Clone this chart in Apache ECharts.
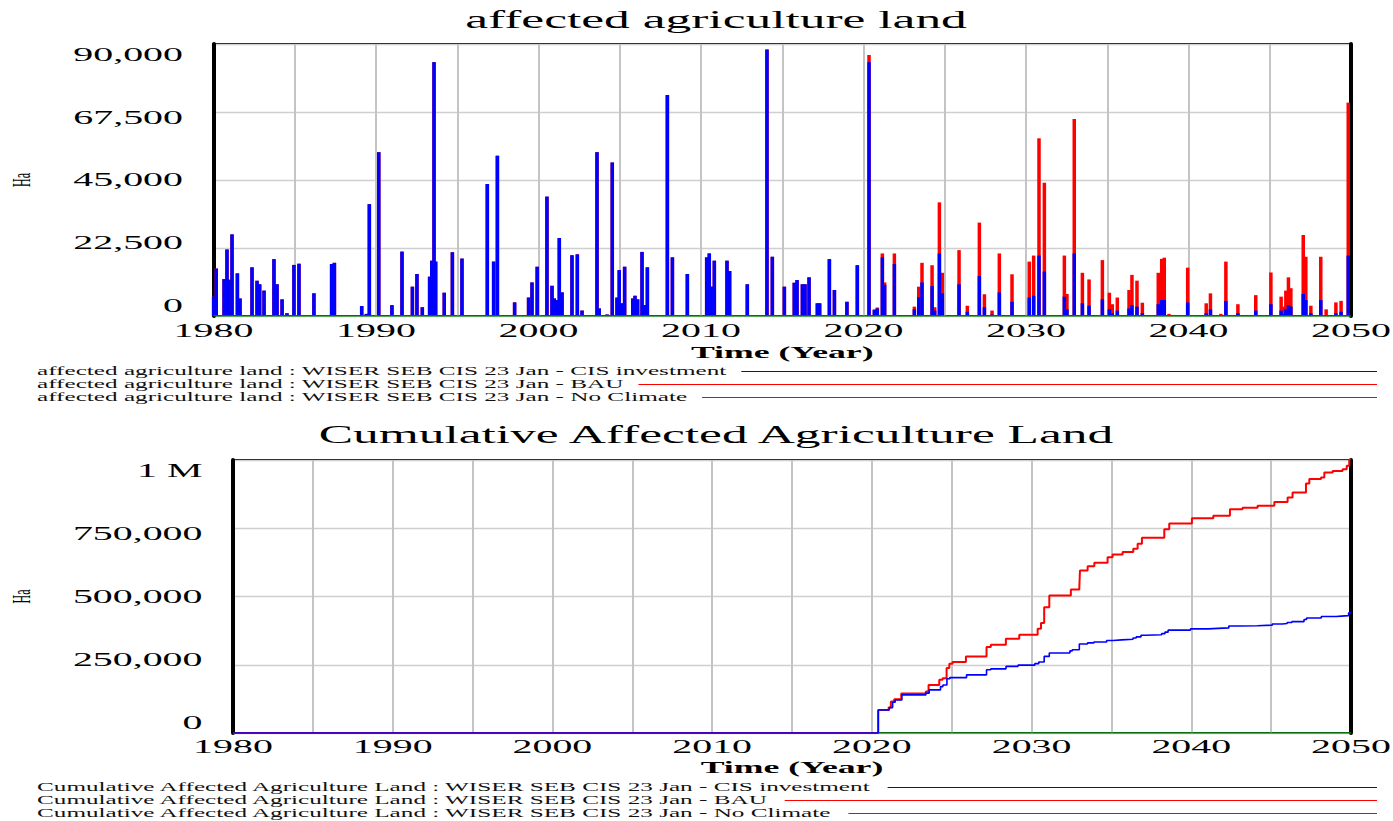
<!DOCTYPE html>
<html>
<head>
<meta charset="utf-8">
<title>affected agriculture land</title>
<script src="https://cdn.jsdelivr.net/npm/echarts@6/dist/echarts.min.js"></script>
<style>
  html, body { margin: 0; padding: 0; background: #fff; }
  #chart { width: 1393px; height: 821px; }
</style>
</head>
<body>
<div id="chart"></div>
<script>
// values (Ha)
// spikes before 2020 are the same in every run
const historyPeaks = [
  [1980.01, 6400], [1980.17, 15700], [1980.65, 12200], [1980.83, 22000], [1980.95, 12000],
  [1981.14, 27000], [1981.47, 14100], [1981.63, 5800], [1982.37, 16100], [1982.68, 11700],
  [1982.84, 10500], [1983.11, 8400], [1983.72, 18800], [1983.91, 10500], [1984.22, 5500],
  [1984.52, 900], [1984.95, 16900], [1985.26, 17300], [1986.18, 7500], [1987.27, 17200],
  [1987.44, 17600], [1989.12, 3300], [1989.41, 700], [1989.59, 37000], [1990.17, 54200],
  [1990.53, 300], [1990.98, 3600], [1991.60, 21300], [1992.24, 9700], [1992.52, 13900],
  [1992.85, 2900], [1993.30, 13000], [1993.43, 18300], [1993.57, 84000], [1993.67, 18000],
  [1994.20, 7700], [1994.70, 21100], [1995.29, 19000], [1996.17, 300], [1996.85, 43700],
  [1997.24, 18000], [1997.47, 53000], [1998.53, 4500], [1999.39, 6100], [1999.60, 11100],
  [1999.92, 16300], [2000.52, 39500], [2000.83, 10000], [2000.97, 5800], [2001.12, 5300],
  [2001.28, 25800], [2001.45, 7800], [2002.06, 20100], [2002.39, 20400], [2002.68, 1800],
  [2003.60, 54200], [2003.74, 2500], [2004.22, 500], [2004.54, 50800], [2004.83, 6100],
  [2004.97, 15200], [2005.14, 4200], [2005.30, 16300], [2005.80, 5800], [2005.94, 6700],
  [2006.10, 5500], [2006.37, 21200], [2006.53, 3600], [2006.70, 16100], [2007.93, 73100],
  [2008.24, 19400], [2009.16, 13900], [2010.35, 19400], [2010.51, 20700], [2010.64, 9700],
  [2010.82, 18300], [2011.60, 18300], [2011.76, 14900], [2012.85, 10500], [2014.06, 88200],
  [2014.39, 19600], [2015.13, 9700], [2015.74, 11000], [2015.91, 11900], [2016.24, 10500],
  [2016.40, 10500], [2016.65, 12800], [2017.16, 4200], [2017.30, 4200], [2017.90, 18800],
  [2018.21, 8600], [2018.37, 300], [2018.98, 4700], [2019.62, 16800]
];

// from 2020 on the runs split
const futureYears = [
  2020.34, 2020.67, 2020.85, 2021.16, 2021.30, 2021.90, 2022.23, 2023.13, 2023.40, 2023.60,
  2024.22, 2024.38, 2024.67, 2024.85, 2025.88, 2026.39, 2027.13, 2027.44, 2027.91, 2028.36,
  2029.14, 2029.75, 2030.20, 2030.47, 2030.80, 2031.13, 2032.36, 2032.52, 2032.97, 2033.47,
  2033.88, 2034.70, 2035.13, 2035.31, 2035.62, 2036.34, 2036.52, 2036.83, 2037.16, 2038.14,
  2038.35, 2038.51, 2038.80, 2039.95, 2040.31, 2041.09, 2041.35, 2041.99, 2042.30, 2043.04,
  2044.14, 2045.07, 2045.70, 2045.85, 2045.99, 2046.15, 2046.30, 2047.06, 2047.22, 2047.53,
  2048.14, 2048.47, 2049.07, 2049.39, 2049.83
];
const bauFuture = [
  86400, 2200, 2800, 20700, 11100, 20700, 300, 3100, 9700, 17600,
  16800, 2900, 37600, 14300, 21800, 3400, 30900, 7200, 1800, 20700,
  13800, 200, 18000, 20000, 58800, 44100, 20000, 7300, 65200, 14300,
  12100, 18500, 7700, 3900, 6100, 8600, 13600, 11700, 4400, 14300,
  18900, 19300, 700, 16000, 300, 4200, 7500, 700, 18000, 3900,
  6900, 14400, 6400, 3100, 8400, 12800, 9200, 26800, 19600, 3400,
  19600, 2200, 4500, 5000, 70600
];
const cisFuture = [
  84000, 2000, 2500, 19400, 10300, 17200, 300, 2200, 6200, 11100,
  9900, 1800, 20700, 7500, 10500, 1400, 13200, 2900, 500, 7800,
  4700, 0, 6100, 6700, 20000, 14700, 6400, 2200, 20700, 4200,
  3400, 5500, 2200, 900, 1800, 2500, 3600, 3100, 900, 3900,
  5300, 5300, 0, 4500, 0, 900, 2200, 0, 5000, 900,
  1800, 3900, 1800, 600, 2200, 3600, 3100, 7300, 5300, 900,
  5300, 300, 900, 1400, 20000
];

// cumulative totals, [year, level reached]
const cumBau = [
  [1980, 0], [2020.40, 84500], [2021.05, 93000], [2021.19, 115000], [2021.40, 124000],
  [2021.84, 144500], [2023.38, 152000], [2023.55, 176000], [2024.22, 195000], [2024.43, 201000],
  [2024.68, 238000], [2024.85, 253500], [2025.05, 260000], [2025.89, 280500], [2027.18, 315000],
  [2027.45, 323000], [2028.39, 345500], [2029.23, 360000], [2030.38, 382000], [2030.59, 403000],
  [2030.79, 460600], [2031.11, 503500], [2032.46, 525500], [2032.99, 534000], [2033.03, 595000],
  [2033.51, 611000], [2033.93, 623500], [2034.76, 644000], [2035.07, 654000], [2035.70, 663000],
  [2036.37, 675000], [2036.64, 693000], [2036.91, 715500], [2038.31, 746000], [2038.62, 767000],
  [2040.04, 786500], [2041.38, 796000], [2042.42, 819500], [2043.21, 825500], [2044.15, 832000],
  [2045.20, 846500], [2046.03, 862500], [2046.34, 881000], [2047.18, 914000], [2047.39, 930000],
  [2048.12, 936000], [2048.33, 954000], [2048.85, 960000], [2049.47, 966500], [2049.73, 979000],
  [2049.89, 1003000], [2050, 1003000]
];
const cumCis = [
  [1980, 0], [2020.40, 84500], [2021.09, 93000], [2021.30, 112700], [2021.46, 121000],
  [2021.88, 139500], [2023.38, 146000], [2023.59, 158000], [2024.30, 170000], [2024.45, 176000],
  [2024.70, 198500], [2024.88, 203000], [2025.93, 213000], [2027.18, 231500], [2027.45, 235000],
  [2028.40, 244000], [2029.15, 248500], [2030.20, 254000], [2030.45, 260000], [2030.79, 280500],
  [2031.11, 293000], [2032.40, 301000], [2032.55, 305000], [2032.99, 326000], [2033.50, 330000],
  [2033.90, 333500], [2034.70, 339000], [2035.10, 341000], [2035.65, 343500], [2036.35, 348000],
  [2036.55, 352000], [2036.85, 358000], [2037.15, 360000], [2038.14, 364000], [2038.35, 369500],
  [2038.55, 377000], [2039.95, 381500], [2041.09, 382500], [2041.35, 385000], [2042.35, 392000],
  [2043.04, 393000], [2044.14, 395000], [2045.07, 399000], [2045.70, 401000], [2046.00, 404500],
  [2046.30, 408000], [2047.06, 415500], [2047.22, 421000], [2048.14, 426500], [2049.07, 428000],
  [2049.39, 430000], [2049.85, 440000], [2050, 440000]
];

// the No Climate run stays at zero
const noClimate = [[1980, 0], [2050, 0]];

const topNames = [
  'affected agriculture land : WISER SEB CIS 23 Jan - CIS investment',
  'affected agriculture land : WISER SEB CIS 23 Jan - BAU',
  'affected agriculture land : WISER SEB CIS 23 Jan - No Climate'
];
const bottomNames = [
  'Cumulative Affected Agriculture Land : WISER SEB CIS 23 Jan - CIS investment',
  'Cumulative Affected Agriculture Land : WISER SEB CIS 23 Jan - BAU',
  'Cumulative Affected Agriculture Land : WISER SEB CIS 23 Jan - No Climate'
];
const runColors = ['#0000ff', '#ff0000', '#008000'];

const FONT = '"Liberation Serif", "Times New Roman", serif';
const SX = 2.1; // the picture is stretched sideways, text too

const bauPeaks = historyPeaks.concat(futureYears.map((y, i) => [y, bauFuture[i]]));
const cisPeaks = historyPeaks.concat(futureYears.map((y, i) => [y, cisFuture[i]]));

const chartDom = document.getElementById('chart');
const chart = echarts.init(chartDom, null, { renderer: 'svg' });

// labels of the y axes sit a bit inward of their grid lines
function yRich(size) {
  const pads = [[0, 0, 21, 0], [0, 0, 10.6, 0], [0, 0, 0, 0], [10.6, 0, 0, 0], [21, 0, 0, 0]];
  const r = {};
  pads.forEach((p, i) => {
    r['p' + i] = { fontFamily: FONT, fontSize: size, color: '#000', padding: p };
  });
  return r;
}

function xAxisFor(gridIndex, margin, nameGap) {
  return {
    gridIndex: gridIndex, type: 'value', min: 1980, max: 2050, interval: 5,
    axisLine: { show: false }, axisTick: { show: false },
    splitLine: { show: true, lineStyle: { color: '#c4c4c4', width: 2 } },
    axisLabel: {
      margin: margin, fontFamily: FONT, fontSize: 19, color: '#000',
      formatter: v => (v % 10 === 0 ? String(v) : '')
    },
    name: 'Time (Year)', nameLocation: 'middle', nameGap: nameGap,
    nameTextStyle: { fontFamily: FONT, fontSize: 17, fontWeight: 'bold', color: '#000' }
  };
}

function yAxisFor(gridIndex, max, interval, fmt, nameGap) {
  return {
    gridIndex: gridIndex, type: 'value', min: 0, max: max, interval: interval,
    axisLine: { show: true, lineStyle: { color: '#000', width: 4 } },
    axisTick: { show: false },
    splitLine: { show: true, lineStyle: { color: '#cfcfcf', width: 1.3 } },
    axisLabel: {
      margin: 30.5, fontFamily: FONT, fontSize: 19, color: '#000',
      formatter: (v, i) => '{p' + i + '|' + fmt(v) + '}',
      rich: yRich(19)
    },
    name: 'Ha', nameLocation: 'middle', nameRotate: 90, nameGap: nameGap,
    nameTextStyle: { fontFamily: FONT, fontSize: 12, color: '#000' }
  };
}

function rightEdge(gridIndex, max) {
  return {
    gridIndex: gridIndex, type: 'value', position: 'right', min: 0, max: max,
    axisLine: { show: true, lineStyle: { color: '#000', width: 4 } },
    axisTick: { show: false }, axisLabel: { show: false }, splitLine: { show: false }
  };
}

const measure = document.createElement('canvas').getContext('2d');
measure.font = '12px "Liberation Serif"';

function legendRows(names, ys) {
  const out = [];
  names.forEach((n, i) => {
    const w = measure.measureText(n).width * SX;
    out.push({
      type: 'text', x: 37, y: ys[i], silent: true,
      style: { text: n, fontFamily: FONT, fontSize: 12, fill: '#111', align: 'left', verticalAlign: 'middle' }
    });
    out.push({
      type: 'line', silent: true,
      shape: { x1: 37 + w + 14, y1: ys[i] + 0.5, x2: 1377, y2: ys[i] + 0.5 },
      style: { stroke: runColors[i], lineWidth: 1 }
    });
  });
  return out;
}

const titleStyle = { fontFamily: FONT, fontSize: 24.5, fontWeight: 'normal', color: '#000' };

const option = {
  animation: false,
  backgroundColor: '#fff',
  title: [
    { text: 'affected agriculture land', left: 716, top: 20, padding: 0,
      textAlign: 'center', textVerticalAlign: 'middle', textStyle: titleStyle },
    { text: 'Cumulative Affected Agriculture Land', left: 716, top: 435, padding: 0,
      textAlign: 'center', textVerticalAlign: 'middle', textStyle: titleStyle }
  ],
  grid: [
    { left: 213.5, top: 44, width: 1137.5, height: 272, show: true,
      borderColor: '#000', borderWidth: 2, outerBoundsMode: 'none' },
    { left: 233, top: 460, width: 1118, height: 273, show: true,
      borderColor: '#000', borderWidth: 2, outerBoundsMode: 'none' }
  ],
  xAxis: [xAxisFor(0, 5.5, 28), xAxisFor(1, 4.5, 26)],
  yAxis: [
    yAxisFor(0, 90000, 22500, v => echarts.format.addCommas(v), 186),
    rightEdge(0, 90000),
    yAxisFor(1, 1000000, 250000, v => (v === 1000000 ? '1 M' : echarts.format.addCommas(v)), 206),
    rightEdge(1, 1000000)
  ],
  series: [
    { name: topNames[2], type: 'line', xAxisIndex: 0, yAxisIndex: 0, data: noClimate,
      showSymbol: false, lineStyle: { color: runColors[2], width: 1.5 } },
    { name: topNames[1], type: 'bar', xAxisIndex: 0, yAxisIndex: 0, data: bauPeaks,
      barWidth: 3.5, barGap: '-100%', itemStyle: { color: runColors[1] } },
    { name: topNames[0], type: 'bar', xAxisIndex: 0, yAxisIndex: 0, data: cisPeaks,
      barWidth: 3.5, barGap: '-100%', itemStyle: { color: runColors[0] } },
    { name: bottomNames[2], type: 'line', xAxisIndex: 1, yAxisIndex: 2, data: noClimate,
      showSymbol: false, lineStyle: { color: runColors[2], width: 1.5 } },
    { name: bottomNames[1], type: 'line', xAxisIndex: 1, yAxisIndex: 2, data: cumBau, step: 'end',
      showSymbol: false, lineStyle: { color: runColors[1], width: 2 } },
    { name: bottomNames[0], type: 'line', xAxisIndex: 1, yAxisIndex: 2, data: cumCis, step: 'end',
      showSymbol: false, lineStyle: { color: runColors[0], width: 1.6 } }
  ],
  graphic: legendRows(topNames, [371, 384, 397]).concat(legendRows(bottomNames, [787, 800, 813]))
};

chart.setOption(option);

// widen every text around its own anchor, like the stretched original
const stretched = new WeakMap();
function stretchText() {
  chartDom.querySelectorAll('svg text').forEach(t => {
    const cur = t.getAttribute('transform') || '';
    if (stretched.get(t) === cur) return;
    const x = parseFloat(t.getAttribute('x')) || 0;
    const y = parseFloat(t.getAttribute('y')) || 0;
    const c = t.transform.baseVal.consolidate();
    const m = c ? c.matrix : { a: 1, b: 0, c: 0, d: 1, e: 0, f: 0 };
    const px = m.a * x + m.c * y + m.e;
    const py = m.b * x + m.d * y + m.f;
    const nt = 'translate(' + px + ' ' + py + ') scale(' + SX + ' 1) translate(' + (-px) + ' ' + (-py) + ') ' + cur;
    t.setAttribute('transform', nt);
    stretched.set(t, nt);
  });
}
stretchText();
chart.on('finished', stretchText);
setTimeout(stretchText, 50);
</script>
</body>
</html>
